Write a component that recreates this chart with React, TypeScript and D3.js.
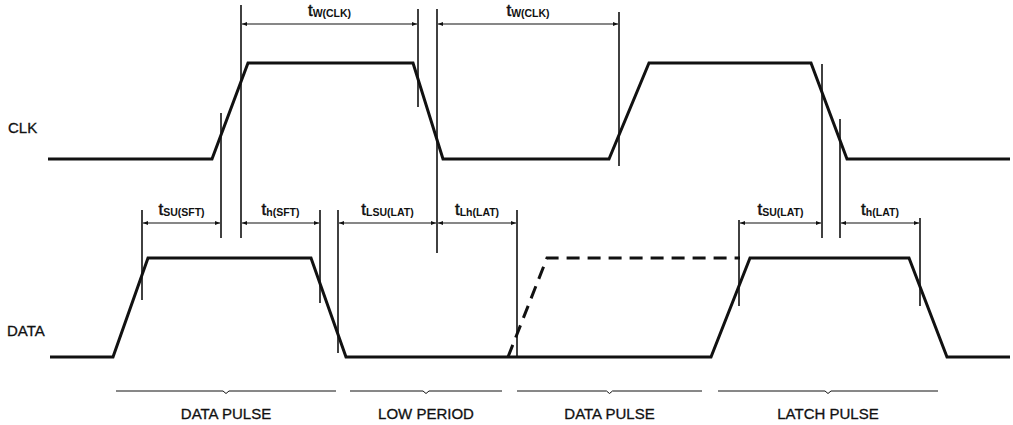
import React from "react";
import * as d3 from "d3";

const W = 1013;
const H = 425;

// time in arbitrary units along the diagram
const clkTimes = [0, 164, 200, 365, 395, 561, 601, 763, 799, 962];
const clkLevels = [0, 0, 1, 1, 0, 0, 1, 1, 0, 0];

const dataTimes = [2, 65, 100, 263, 298, 663, 702, 861, 899, 962];
const dataLevels = [0, 0, 1, 1, 0, 0, 1, 1, 0, 0];

// optional data pulse (dashed)
const optTimes = [460, 499, 692];
const optLevels = [0, 1, 1];

// reference edges (vertical lines)
const edgeTimes = [173, 193, 370, 389, 571, 774, 792, 94, 272, 290, 469, 691, 872];

// timing measurements
const measFrom = [193, 389, 94, 193, 290, 389, 691, 792];
const measTo = [370, 571, 173, 272, 389, 469, 774, 872];
const measMain = ["t", "t", "t", "t", "t", "t", "t", "t"];
const measSub = ["W(CLK)", "W(CLK)", "SU(SFT)", "h(SFT)", "LSU(LAT)", "Lh(LAT)", "SU(LAT)", "h(LAT)"];
const measRow = ["clk", "clk", "data", "data", "data", "data", "data", "data"];

// period brackets
const periodFrom = [68, 302, 469, 670];
const periodTo = [288, 454, 654, 890];
const periodNames = ["DATA PULSE", "LOW PERIOD", "DATA PULSE", "LATCH PULSE"];

const signalNames = ["CLK", "DATA"];

// layout: vertical extent of each edge line [top, bottom]
const edgeSpan: [number, number][] = [
  [113, 238], [5, 238], [9, 107], [9, 253], [12, 166], [64, 238], [119, 238],
  [210, 300], [210, 303], [210, 353], [210, 357], [220, 306], [218, 306],
];

const font = "'Liberation Sans', Arial, Helvetica, sans-serif";
const ink = "#111";

export default function App() {
  const x = d3.scaleLinear().domain([0, 962]).range([48, 1010]);
  const yClk = d3.scaleLinear().domain([0, 1]).range([159, 63]);
  const yData = d3.scaleLinear().domain([0, 1]).range([357, 258]);

  const line = (ys: d3.ScaleLinear<number, number>) =>
    d3.line<[number, number]>().x(d => x(d[0])).y(d => ys(d[1]));

  const clkPath = line(yClk)(clkTimes.map((t, i) => [t, clkLevels[i]]));
  const dataPath = line(yData)(dataTimes.map((t, i) => [t, dataLevels[i]]));
  const optPath = line(yData)(optTimes.map((t, i) => [t, optLevels[i]]));

  const rowY: Record<string, number> = { clk: 24, data: 223 };
  const labelY: Record<string, number> = { clk: 16, data: 215 };
  const bracketY = 391;

  return (
    <svg
      width={W}
      height={H}
      style={{ position: "absolute", left: 0, top: 0, background: "#fff" }}
      fontFamily={font}
    >
      <defs>
        <marker
          id="ah"
          viewBox="0 0 10 10"
          refX={10}
          refY={5}
          markerWidth={8}
          markerHeight={5}
          markerUnits="userSpaceOnUse"
          orient="auto-start-reverse"
        >
          <path d="M0,1 L10,5 L0,9 Z" fill={ink} />
        </marker>
      </defs>

      {/* signal names */}
      <g fontSize={15} fill={ink} stroke={ink} strokeWidth={0.3}>
        <text x={8} y={133}>{signalNames[0]}</text>
        <text x={7} y={336}>{signalNames[1]}</text>
      </g>

      {/* waveforms */}
      <path d={clkPath ?? ""} fill="none" stroke={ink} strokeWidth={3} />
      <path d={dataPath ?? ""} fill="none" stroke={ink} strokeWidth={3} />
      <path d={optPath ?? ""} fill="none" stroke={ink} strokeWidth={3} strokeDasharray="13 8" />

      {/* edge lines */}
      {edgeTimes.map((t, i) => (
        <line
          key={"e" + i}
          x1={x(t)}
          x2={x(t)}
          y1={edgeSpan[i][0]}
          y2={edgeSpan[i][1]}
          stroke={ink}
          strokeWidth={1.6}
        />
      ))}

      {/* measurements */}
      {measFrom.map((f, i) => {
        const x1 = x(f) + 1;
        const x2 = x(measTo[i]) - 1;
        const y = rowY[measRow[i]];
        return (
          <g key={"m" + i}>
            <line
              x1={x1}
              x2={x2}
              y1={y}
              y2={y}
              stroke={ink}
              strokeWidth={1.1}
              markerStart="url(#ah)"
              markerEnd="url(#ah)"
            />
            <text x={(x1 + x2) / 2} y={labelY[measRow[i]]} textAnchor="middle" fill={ink}>
              <tspan fontSize={17} stroke={ink} strokeWidth={0.5}>{measMain[i]}</tspan>
              <tspan fontSize={10.5} fontWeight={700} dy={0.5}>{measSub[i]}</tspan>
            </text>
          </g>
        );
      })}

      {/* period brackets */}
      {periodFrom.map((f, i) => {
        const x1 = x(f);
        const x2 = x(periodTo[i]);
        const c = (x1 + x2) / 2;
        return (
          <g key={"p" + i}>
            <path
              d={`M${x1},${bracketY} L${c - 3},${bracketY} L${c},${bracketY + 2.5} L${c + 3},${bracketY} L${x2},${bracketY}`}
              fill="none"
              stroke={ink}
              strokeWidth={1}
            />
            <text
              x={c}
              y={419}
              fontSize={15}
              textAnchor="middle"
              fill={ink}
              stroke={ink}
              strokeWidth={0.3}
            >
              {periodNames[i]}
            </text>
          </g>
        );
      })}
    </svg>
  );
}
